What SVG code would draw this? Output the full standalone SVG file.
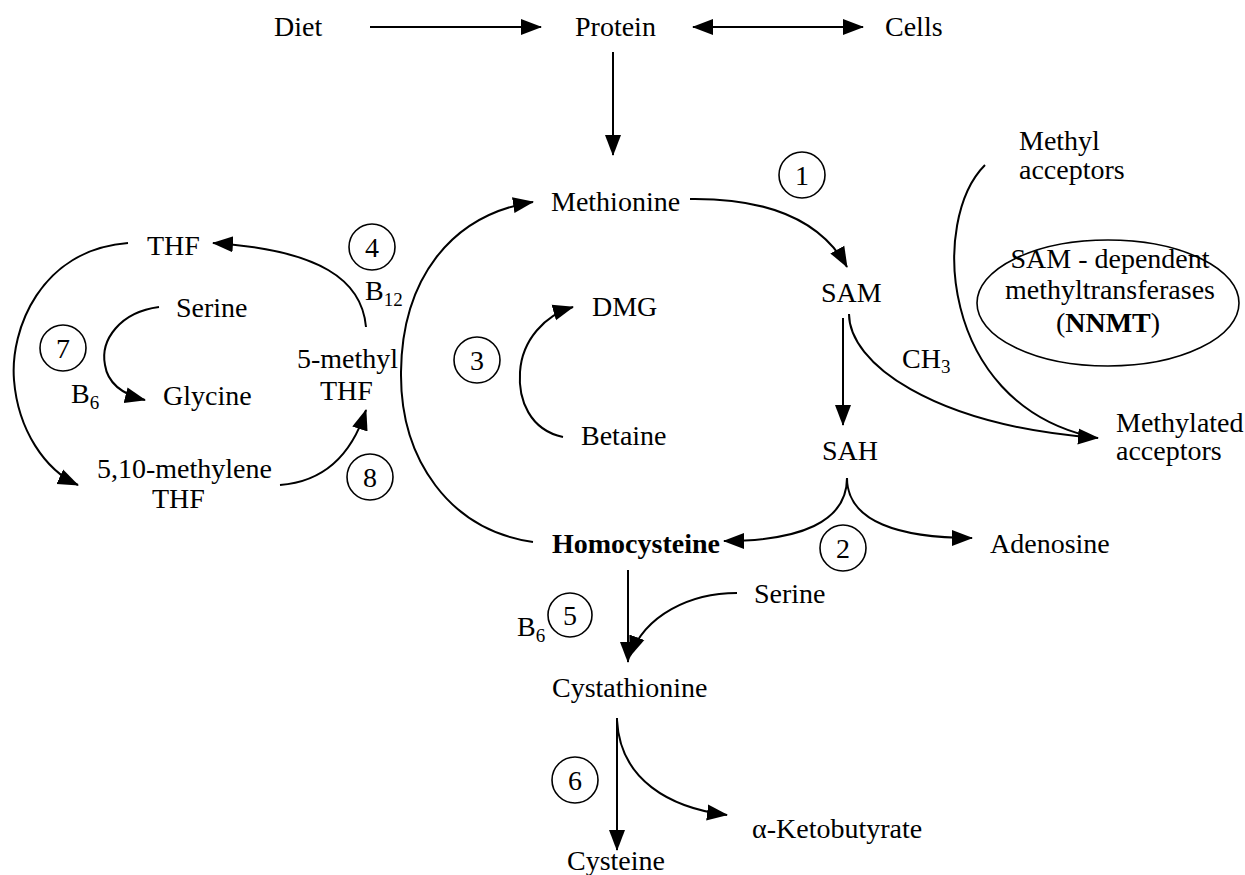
<svg xmlns="http://www.w3.org/2000/svg" width="1245" height="875" viewBox="0 0 1245 875" font-family="'Liberation Serif', 'DejaVu Serif', serif">
<style>
text{font-family:"Liberation Serif","DejaVu Serif",serif;font-size:28px;fill:#000}
.b{font-weight:bold}
.sub{font-size:19px}
.c{text-anchor:middle}
.ln{fill:none;stroke:#000;stroke-width:2}
.ar{marker-end:url(#ah)}
.num{fill:#fff;stroke:#000;stroke-width:1.6}
</style>
<defs>
<marker id="ah" markerUnits="userSpaceOnUse" markerWidth="22" markerHeight="18" viewBox="0 0 22 18" refX="20" refY="9" orient="auto">
<path d="M0,1 L21,9 L0,17 Z" fill="#000"/>
</marker>
<marker id="ahs" markerUnits="userSpaceOnUse" markerWidth="22" markerHeight="18" viewBox="0 0 22 18" refX="20" refY="9" orient="auto-start-reverse">
<path d="M0,1 L21,9 L0,17 Z" fill="#000"/>
</marker>
</defs>
<rect width="1245" height="875" fill="#fff"/>

<g id="connectors">
<path class="ln ar" d="M370,27 L541,27"/>
<path class="ln" d="M693,27 L863,27" marker-start="url(#ahs)" marker-end="url(#ahs)"/>
<path class="ln ar" d="M613,52 L613,155"/>
<path class="ln ar" d="M690,199 C770,198 822,222 847,267"/>
<path class="ln ar" d="M843,318 L843,425"/>
<path class="ln ar" d="M849,314 C849,362 930,425 1098,438"/>
<path class="ln" d="M985,165 C930,220 940,400 1088,436"/>
<path class="ln ar" d="M847,478 C847,522 800,541 724,541"/>
<path class="ln ar" d="M847,478 C847,522 900,538 972,538"/>
<path class="ln ar" d="M533,542 C450,530 400,460 401,372 C402,280 450,215 533,202"/>
<path class="ln ar" d="M563,437 C530,430 518,400 520,372 C522,340 545,315 573,307"/>
<path class="ln ar" d="M628,570 L628,662"/>
<path class="ln ar" d="M737,593 C690,593 645,615 630,656"/>
<path class="ln ar" d="M617,718 L617,850"/>
<path class="ln ar" d="M617,720 C620,780 670,808 727,815"/>
<path class="ln ar" d="M128,243 C40,250 10,330 14,380 C18,430 45,470 78,485"/>
<path class="ln ar" d="M159,307 C120,312 100,340 105,365 C108,385 125,395 145,400"/>
<path class="ln ar" d="M280,485 C320,482 350,460 366,410"/>
<path class="ln ar" d="M366,327 C362,280 320,250 213,243"/>
</g>

<g id="diet"><text x="274" y="36">Diet</text></g>
<g id="protein"><text x="575" y="36">Protein</text></g>
<g id="cells"><text x="885" y="36">Cells</text></g>
<g id="methionine"><text x="551" y="211">Methionine</text></g>
<g id="step1"><circle class="num" cx="802" cy="175" r="23"/><text class="c" x="802" y="185">1</text></g>
<g id="sam"><text x="821" y="302">SAM</text></g>
<g id="sah"><text x="822" y="460">SAH</text></g>
<g id="ch3"><text x="902" y="368">CH<tspan class="sub" dy="5">3</tspan></text></g>
<g id="methyl-acceptors"><text x="1019" y="150">Methyl</text><text x="1019" y="179">acceptors</text></g>
<g id="methyltransferases">
<ellipse cx="1108" cy="303" rx="131" ry="63" fill="none" stroke="#000" stroke-width="1.6"/>
<text class="c" x="1110" y="268">SAM - dependent</text>
<text class="c" x="1110" y="299">methyltransferases</text>
<text class="c" x="1108" y="332">(<tspan class="b">NNMT</tspan>)</text>
</g>
<g id="methylated-acceptors"><text x="1116" y="432">Methylated</text><text x="1116" y="460">acceptors</text></g>
<g id="homocysteine"><text class="b" x="552" y="553">Homocysteine</text></g>
<g id="step2"><circle class="num" cx="843" cy="548" r="23"/><text class="c" x="843" y="558">2</text></g>
<g id="adenosine"><text x="990" y="553">Adenosine</text></g>
<g id="serine2"><text x="754" y="603">Serine</text></g>
<g id="step5"><circle class="num" cx="570" cy="615" r="22"/><text class="c" x="570" y="625">5</text><text x="517" y="636">B<tspan class="sub" dy="6">6</tspan></text></g>
<g id="cystathionine"><text x="552" y="697">Cystathionine</text></g>
<g id="step6"><circle class="num" cx="575" cy="780" r="23"/><text class="c" x="575" y="790">6</text></g>
<g id="cysteine"><text x="567" y="870">Cysteine</text></g>
<g id="ketobutyrate"><text x="752" y="838">α-Ketobutyrate</text></g>
<g id="dmg"><text x="592" y="316">DMG</text></g>
<g id="betaine"><text x="581" y="445">Betaine</text></g>
<g id="step3"><circle class="num" cx="477" cy="360" r="23"/><text class="c" x="477" y="370">3</text></g>
<g id="thf"><text x="147" y="255">THF</text></g>
<g id="serine1"><text x="176" y="317">Serine</text></g>
<g id="glycine"><text x="163" y="405">Glycine</text></g>
<g id="step7"><circle class="num" cx="63" cy="348" r="23"/><text class="c" x="63" y="358">7</text><text x="71" y="403">B<tspan class="sub" dy="6">6</tspan></text></g>
<g id="methylene-thf"><text x="97" y="478">5,10-methylene</text><text x="152" y="508">THF</text></g>
<g id="methyl-thf"><text x="297" y="368">5-methyl</text><text x="320" y="400">THF</text></g>
<g id="step4"><circle class="num" cx="372" cy="247" r="23"/><text class="c" x="372" y="257">4</text><text x="365" y="300">B<tspan class="sub" dy="6">12</tspan></text></g>
<g id="step8"><circle class="num" cx="370" cy="477" r="23"/><text class="c" x="370" y="487">8</text></g>
</svg>
